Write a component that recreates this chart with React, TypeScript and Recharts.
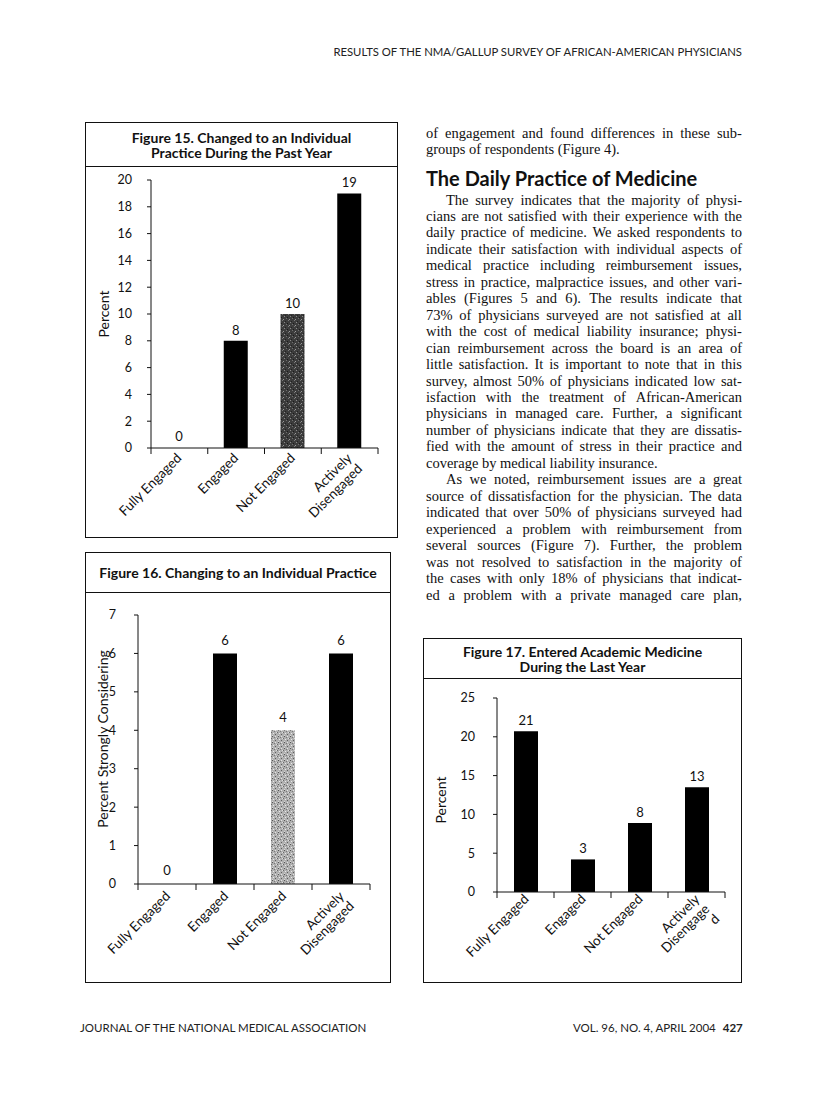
import React from 'react';
import { BarChart, Bar, XAxis, YAxis, LabelList, Cell, Label } from 'recharts';

// ---------- data ----------
const CATEGORIES = ['Fully Engaged', 'Engaged', 'Not Engaged', 'Actively Disengaged'];
const CATEGORY_LINES = [['Fully Engaged'], ['Engaged'], ['Not Engaged'], ['Actively', 'Disengaged']];
const CATEGORY_LINES_17 = [['Fully Engaged'], ['Engaged'], ['Not Engaged'], ['Actively', 'Disengage', 'd']];

const FIG15_TITLE = ['Figure 15. Changed to an Individual', 'Practice During the Past Year'];
const FIG15_VALUES = [0, 8, 10, 19];
const FIG15_LABELS = ['0', '8', '10', '19'];
const FIG15_TICKS = [0, 2, 4, 6, 8, 10, 12, 14, 16, 18, 20];

const FIG16_TITLE = ['Figure 16. Changing to an Individual Practice'];
const FIG16_VALUES = [0, 6, 4, 6];
const FIG16_LABELS = ['0', '6', '4', '6'];
const FIG16_TICKS = [0, 1, 2, 3, 4, 5, 6, 7];

const FIG17_TITLE = ['Figure 17. Entered Academic Medicine', 'During the Last Year'];
const FIG17_VALUES = [20.7, 4.2, 8.9, 13.5];
const FIG17_LABELS = ['21', '3', '8', '13'];
const FIG17_TICKS = [0, 5, 10, 15, 20, 25];

const HEADER = 'RESULTS OF THE NMA/GALLUP SURVEY OF AFRICAN-AMERICAN PHYSICIANS';
const FOOTER_LEFT = 'JOURNAL OF THE NATIONAL MEDICAL ASSOCIATION';
const FOOTER_RIGHT = 'VOL. 96, NO. 4, APRIL 2004';
const PAGE_NUMBER = '427';
const HEADING = 'The Daily Practice of Medicine';
const INTRO_LINES = ['of engagement and found differences in these sub-', 'groups of respondents (Figure 4).'];
const BODY_LINES = [
  'The survey indicates that the majority of physi-',
  'cians are not satisfied with their experience with the',
  'daily practice of medicine. We asked respondents to',
  'indicate their satisfaction with individual aspects of',
  'medical practice including reimbursement issues,',
  'stress in practice, malpractice issues, and other vari-',
  'ables (Figures 5 and 6). The results indicate that',
  '73% of physicians surveyed are not satisfied at all',
  'with the cost of medical liability insurance; physi-',
  'cian reimbursement across the board is an area of',
  'little satisfaction. It is important to note that in this',
  'survey, almost 50% of physicians indicated low sat-',
  'isfaction with the treatment of African-American',
  'physicians in managed care. Further, a significant',
  'number of physicians indicate that they are dissatis-',
  'fied with the amount of stress in their practice and',
  'coverage by medical liability insurance.',
  'As we noted, reimbursement issues are a great',
  'source of dissatisfaction for the physician. The data',
  'indicated that over 50% of physicians surveyed had',
  'experienced a problem with reimbursement from',
  'several sources (Figure 7). Further, the problem',
  'was not resolved to satisfaction in the majority of',
  'the cases with only 18% of physicians that indicat-',
  'ed a problem with a private managed care plan,',
];
const BODY_LAST_LINES = [16];
const BODY_INDENT_LINES = [0, 17];

// ---------- styles ----------
const SANS = 'Lato, "DejaVu Sans", sans-serif';
const SERIF = '"Liberation Serif", "Times New Roman", serif';
const INK = '#111';

type ChartProps = {
  left: number; top: number; width: number; height: number;
  yAxisWidth: number; marginTop: number; marginRight: number; xAxisHeight: number;
  values: number[]; labels: string[]; lines: string[][]; fills: string[];
  ticks: number[]; yLabel: string; yLabelX: number; yLabelY: number; yTickMargin: number;
  labelOffset: number; catDx: number; catDy: number; catLh: number;
};

function Patterns() {
  return (
    <defs>
      <pattern id="stipDark" width="6" height="6" patternUnits="userSpaceOnUse">
        <rect width="6" height="6" fill="#3c3c3c" />
        <rect x="1" y="0" width="1" height="1" fill="#8a8a8a" />
        <rect x="4" y="1" width="1" height="1" fill="#1a1a1a" />
        <rect x="3" y="2" width="1" height="1" fill="#707070" />
        <rect x="0" y="3" width="1" height="1" fill="#9a9a9a" />
        <rect x="5" y="4" width="1" height="1" fill="#7a7a7a" />
        <rect x="2" y="5" width="1" height="1" fill="#222" />
      </pattern>
      <pattern id="stipLight" width="6" height="6" patternUnits="userSpaceOnUse">
        <rect width="6" height="6" fill="#b0b0b0" />
        <rect x="1" y="0" width="1" height="1" fill="#555" />
        <rect x="4" y="0" width="1" height="1" fill="#e4e4e4" />
        <rect x="3" y="1" width="1" height="1" fill="#7a7a7a" />
        <rect x="0" y="2" width="1" height="1" fill="#6a6a6a" />
        <rect x="5" y="2" width="1" height="1" fill="#ddd" />
        <rect x="2" y="3" width="1" height="1" fill="#e8e8e8" />
        <rect x="4" y="4" width="1" height="1" fill="#5e5e5e" />
        <rect x="1" y="5" width="1" height="1" fill="#d6d6d6" />
      </pattern>
    </defs>
  );
}

function FigureChart(p: ChartProps) {
  const data = CATEGORIES.map((c, i) => ({ category: c, value: p.values[i], label: p.labels[i] }));
  const max = p.ticks[p.ticks.length - 1];
  const band = (p.width - p.yAxisWidth - p.marginRight) / CATEGORIES.length;
  const CatTick = (props: any) => {
    const { x, y, index } = props;
    const ls = p.lines[index] || [];
    const last = index === CATEGORIES.length - 1;
    return (
      <g>
        <line x1={x - band / 2} x2={x - band / 2} y1={y} y2={y + 6} stroke={INK} />
        {last && <line x1={x + band / 2} x2={x + band / 2} y1={y} y2={y + 6} stroke={INK} />}
        {ls.map((t, i) => {
          const ex = x + p.catDx + i * p.catLh * 0.7071;
          const ey = y + p.catDy + i * p.catLh * 0.7071;
          return (
            <text key={i} x={ex} y={ey} textAnchor="end" transform={`rotate(-45 ${ex} ${ey})`}
              fontSize={13.5} fontFamily={SANS} fill={INK}>{t}</text>
          );
        })}
      </g>
    );
  };
  return (
    <div style={{ position: 'absolute', left: p.left, top: p.top }}>
      <BarChart width={p.width} height={p.height} data={data}
        margin={{ top: p.marginTop, right: p.marginRight, bottom: 0, left: 0 }}>
        <Patterns />
        <XAxis dataKey="category" type="category" height={p.xAxisHeight} interval={0}
          axisLine={{ stroke: INK }} tickLine={false} tickSize={0} tickMargin={0} tick={<CatTick />} />
        <YAxis type="number" domain={[0, max]} ticks={p.ticks} width={p.yAxisWidth} interval={0}
          tickSize={4} tickMargin={p.yTickMargin} axisLine={{ stroke: INK }} tickLine={{ stroke: INK }}
          tick={{ fontSize: 12.5, fontFamily: SANS, fill: INK }}>
          <Label content={() => (
            <text x={p.yLabelX - p.left} y={p.yLabelY - p.top} textAnchor="middle" dominantBaseline="central"
              transform={`rotate(-90 ${p.yLabelX - p.left} ${p.yLabelY - p.top})`}
              fontSize={14} fontFamily={SANS} fill={INK}>{p.yLabel}</text>
          )} />
        </YAxis>
        <Bar dataKey="value" barSize={24} minPointSize={1} isAnimationActive={false}>
          {data.map((d, i) => <Cell key={i} fill={d.value === 0 ? 'none' : p.fills[i]} />)}
          <LabelList dataKey="label" position="top" offset={p.labelOffset}
            style={{ fontSize: 13, fontFamily: SANS, fill: INK }} />
        </Bar>
      </BarChart>
    </div>
  );
}

function FigureBox({ left, top, right, bottom, sep, title }: { left: number; top: number; right: number; bottom: number; sep: number; title: string[] }) {
  return (
    <div style={{ position: 'absolute', left, top, width: right - left, height: bottom - top, border: `1px solid ${INK}`, boxSizing: 'border-box' }}>
      <div style={{ height: sep - top, borderBottom: `1px solid ${INK}`, boxSizing: 'border-box', display: 'flex', flexDirection: 'column', justifyContent: 'center', alignItems: 'center' }}>
        {title.map((t, i) => (
          <div key={i} style={{ fontFamily: SANS, fontWeight: 700, fontSize: 14, lineHeight: '15px', color: INK, whiteSpace: 'nowrap' }}>{t}</div>
        ))}
      </div>
    </div>
  );
}

function TextLine({ text, left, top, width, justify }: { text: string; left: number; top: number; width: number; justify: boolean }) {
  const base: React.CSSProperties = { position: 'absolute', left, top, fontFamily: SERIF, fontSize: 14.5, lineHeight: '17px', color: INK, whiteSpace: 'pre' };
  if (!justify) return <div style={base}>{text}</div>;
  return (
    <div style={{ ...base, width, display: 'flex', justifyContent: 'space-between' }}>
      {text.split(' ').map((w, i) => <span key={i}>{w}</span>)}
    </div>
  );
}

export default function App() {
  const colLeft = 426;
  const colWidth = 316;
  const indent = 20;
  const bodyStart = 200;
  const bodyStep = 16.46;
  return (
    <div style={{ position: 'absolute', left: 0, top: 0, width: 816, height: 1103, background: '#fff', overflow: 'hidden' }}>
      <div style={{ position: 'absolute', right: 74, top: 44, fontFamily: SANS, fontSize: 11.3, lineHeight: '16px', color: '#222', whiteSpace: 'nowrap' }}>{HEADER}</div>

      <FigureBox left={85} top={122} right={398} bottom={538} sep={166} title={FIG15_TITLE} />
      <FigureChart left={85} top={166} width={313} height={372} yAxisWidth={66} marginTop={14} marginRight={20} xAxisHeight={90}
        values={FIG15_VALUES} labels={FIG15_LABELS} lines={CATEGORY_LINES} fills={['#000', '#000', 'url(#stipDark)', '#000']}
        ticks={FIG15_TICKS} yLabel="Percent" yLabelX={103} yLabelY={314} yTickMargin={15}
        labelOffset={6} catDx={3} catDy={11} catLh={15} />

      <FigureBox left={85} top={552} right={391} bottom={983} sep={592} title={FIG16_TITLE} />
      <FigureChart left={85} top={592} width={306} height={390} yAxisWidth={53} marginTop={23} marginRight={21} xAxisHeight={98}
        values={FIG16_VALUES} labels={FIG16_LABELS} lines={CATEGORY_LINES} fills={['#000', '#000', 'url(#stipLight)', '#000']}
        ticks={FIG16_TICKS} yLabel="Percent  Strongly Considering" yLabelX={102} yLabelY={739} yTickMargin={18}
        labelOffset={8} catDx={4} catDy={13} catLh={14} />

      <FigureBox left={423} top={638} right={742} bottom={983} sep={678} title={FIG17_TITLE} />
      <FigureChart left={423} top={678} width={319} height={304} yAxisWidth={74} marginTop={20} marginRight={17} xAxisHeight={90}
        values={FIG17_VALUES} labels={FIG17_LABELS} lines={CATEGORY_LINES_17} fills={['#000', '#000', '#000', '#000']}
        ticks={FIG17_TICKS} yLabel="Percent" yLabelX={440} yLabelY={800} yTickMargin={18}
        labelOffset={6} catDx={4} catDy={8} catLh={14} />

      {INTRO_LINES.map((t, i) => (
        <TextLine key={'i' + i} text={t} left={colLeft} top={133 + i * bodyStep - 8.5} width={colWidth} justify={i === 0} />
      ))}
      <div style={{ position: 'absolute', left: colLeft, top: 166, fontFamily: SANS, fontWeight: 700, fontSize: 20, lineHeight: '24px', color: INK, whiteSpace: 'nowrap' }}>{HEADING}</div>
      {BODY_LINES.map((t, i) => {
        const ind = BODY_INDENT_LINES.includes(i) ? indent : 0;
        return (
          <TextLine key={'b' + i} text={t} left={colLeft + ind} top={bodyStart + i * bodyStep - 8.5}
            width={colWidth - ind} justify={!BODY_LAST_LINES.includes(i)} />
        );
      })}

      <div style={{ position: 'absolute', left: 80, top: 1020, fontFamily: SANS, fontSize: 11.5, lineHeight: '16px', color: '#222', whiteSpace: 'nowrap' }}>{FOOTER_LEFT}</div>
      <div style={{ position: 'absolute', left: 573, top: 1020, fontFamily: SANS, fontSize: 11.5, lineHeight: '16px', color: '#222', whiteSpace: 'nowrap' }}>
        {FOOTER_RIGHT}<span style={{ fontWeight: 700, marginLeft: 7 }}>{PAGE_NUMBER}</span>
      </div>
    </div>
  );
}
